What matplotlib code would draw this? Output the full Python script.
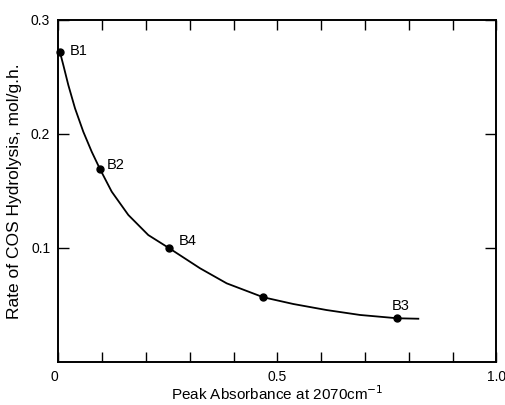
import matplotlib
matplotlib.use("Agg")
import matplotlib.pyplot as plt

plt.rcParams['font.family'] = ['Liberation Sans', 'DejaVu Sans']

# Measured points
sample_names = ["B1", "B2", "B4", "", "B3"]
absorbance = [0.0034, 0.0947, 0.253, 0.4676, 0.7735]
rate = [0.2713, 0.1690, 0.0996, 0.0567, 0.0383]

# Smooth fitted curve
curve_x = [0.0034, 0.011, 0.0224, 0.0377, 0.0566, 0.0758, 0.0947, 0.1215, 0.1594,
           0.2050, 0.2530, 0.3231, 0.3840, 0.4676, 0.5361, 0.6123, 0.6884, 0.7735, 0.8215]
curve_y = [0.2713, 0.2601, 0.2426, 0.2222, 0.2017, 0.1842, 0.1690, 0.1492, 0.1288,
           0.1112, 0.0996, 0.0821, 0.0689, 0.0567, 0.0508, 0.0455, 0.0412, 0.0383, 0.0379]

x_ticks = [0.0, 0.1, 0.2, 0.3, 0.4, 0.5, 0.6, 0.7, 0.8, 0.9, 1.0]
x_tick_labels = ["0", "", "", "", "", "0.5", "", "", "", "", "1.0"]
y_ticks = [0.1, 0.2, 0.3]
y_tick_labels = ["0.1", "0.2", "0.3"]

fig = plt.figure(figsize=(5.06, 4.05), dpi=100)
ax = fig.add_axes([58.5/506, 1-362/405, (496.5-58.5)/506, (362-19.5)/405])

ax.plot(curve_x, curve_y, color='black', lw=1.3, solid_joinstyle='round')
ax.plot(absorbance, rate, 'o', color='black', ms=5, clip_on=False)

offsets = {"B1": (10, 1, 'left', 'center'),
           "B2": (7, 4, 'left', 'center'),
           "B4": (9, 7, 'left', 'center'),
           "B3": (3, 12, 'center', 'center')}
for name, xv, yv in zip(sample_names, absorbance, rate):
    if not name:
        continue
    dx, dy, ha, va = offsets[name]
    ax.annotate(name, (xv, yv), xytext=(dx, dy), textcoords='offset pixels',
                ha=ha, va=va, fontsize=10.5)

ax.set_xlim(0, 1.0)
ax.set_ylim(0, 0.3)
ax.set_xticks(x_ticks)
ax.set_xticklabels(x_tick_labels)
ax.set_yticks(y_ticks)
ax.set_yticklabels(y_tick_labels)
ax.get_xticklabels()[0].set_horizontalalignment('right')

ax.tick_params(axis='x', direction='in', length=7, width=1, top=True, labelsize=10, pad=6)
ax.tick_params(axis='y', direction='in', length=8, width=1, right=True, labelsize=10, pad=6)
for s in ax.spines.values():
    s.set_linewidth(1.4)

ax.set_xlabel("Peak Absorbance at 2070cm$^{-1}$", fontsize=11, labelpad=0)
ax.set_ylabel("Rate of COS Hydrolysis, mol/g.h.", fontsize=12.5, labelpad=6)

fig.savefig("out.png", dpi=100)
